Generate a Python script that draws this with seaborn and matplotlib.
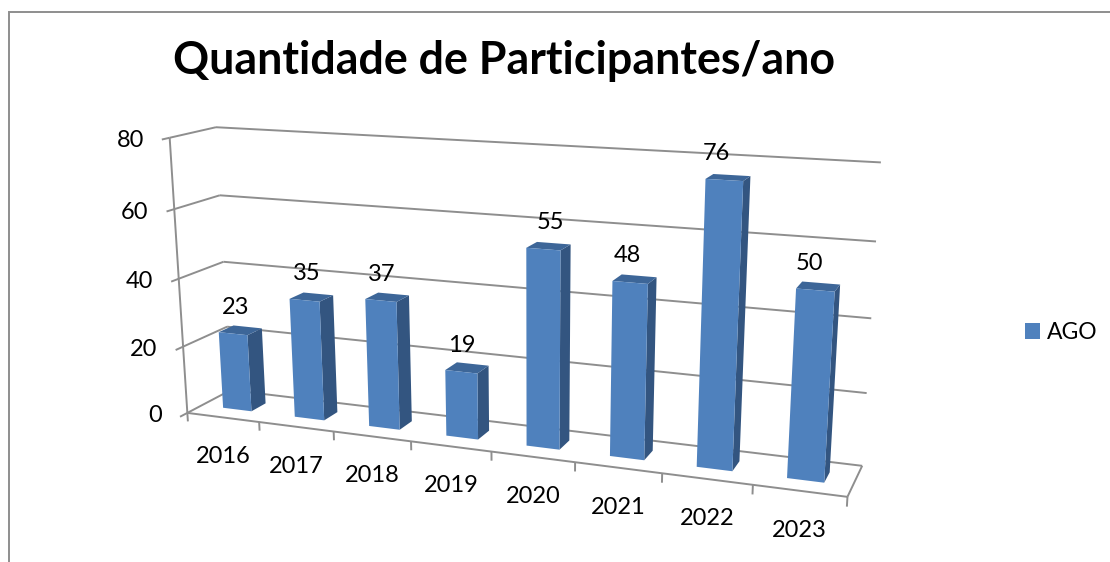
import numpy as np
import matplotlib
matplotlib.use("Agg")
import matplotlib.pyplot as plt
from matplotlib.transforms import Transform
import seaborn as sns

# ---- data ----
TITLE = "Quantidade de Participantes/ano"
YEARS = ["2016", "2017", "2018", "2019", "2020", "2021", "2022", "2023"]
VALUES = [23, 35, 37, 19, 55, 48, 76, 50]
SERIES = "AGO"
Y_TICKS = [0, 20, 40, 60, 80]

# ---- style / placement ----
W, H = 1110, 562
FRONT, SIDE, TOP = "#4F81BD", "#335580", "#3D6698"
GRID = "#8E8E8E"
D0, D1 = 0.33, 0.67
BAR_W = 0.4
LABEL_DX = [3, 2, 1, 0, 7, -3, -8, -6]
TEXT_SIZE = 17

# Camera calibration: box landmarks (slot, value, depth) -> picture position
CAL = [
    (0, 0, 0, 188, 412), (1, 0, 0, 259, 421), (2, 0, 0, 333, 431), (3, 0, 0, 411, 441),
    (4, 0, 0, 491, 452), (5, 0, 0, 575, 463), (6, 0, 0, 662, 474), (7, 0, 0, 753, 485),
    (8, 0, 0, 848, 497),
    (0, 20, 0, 183, 347), (0, 40, 0, 179, 279), (0, 60, 0, 175, 209), (0, 80, 0, 169, 138),
    (0, 0, 1, 231, 393), (0, 20, 1, 227, 326), (0, 40, 1, 223, 261), (0, 60, 1, 220, 195),
    (0, 80, 1, 216, 127),
    (8, 0, 1, 862, 464), (8, 20, 1, 867, 393), (8, 40, 1, 871, 318), (8, 60, 1, 876, 242),
    (8, 80, 1, 881, 163),
]


def fit_camera(rows):
    A = []
    for x, v, d, px, py in rows:
        X = [x / 8, v / 80, d, 1]
        A.append(X + [0, 0, 0, 0] + [-px * c for c in X])
        A.append([0, 0, 0, 0] + X + [-py * c for c in X])
    return np.linalg.svd(np.array(A, float))[2][-1].reshape(3, 4)


CAM = fit_camera(CAL)


def project(x, v, d):
    x, v, d = np.asarray(x, float), np.asarray(v, float), np.asarray(d, float)
    X = np.stack(np.broadcast_arrays(x / 8, v / 80, d, 1.0), axis=-1)
    p = X @ CAM.T
    return p[..., 0] / p[..., 2], p[..., 1] / p[..., 2]


class DepthPlane(Transform):
    """Maps seaborn's (category position, value) onto a plane of the 3D box."""
    input_dims = output_dims = 2
    is_affine = False

    def __init__(self, plane_depth):
        super().__init__()
        self.plane_depth = plane_depth

    def transform_non_affine(self, xy):
        xy = np.asarray(xy, float)
        px, py = project(xy[:, 0] + 0.5, xy[:, 1], self.plane_depth)
        return np.column_stack([px, py])


sns.set_theme(style="white")
plt.rcParams["font.family"] = ["Lato", "DejaVu Sans"]
fig = plt.figure(figsize=(W / 100, H / 100), dpi=100, facecolor="white")
ax = fig.add_axes([0, 0, 1, 1])

sns.barplot(x=YEARS, y=VALUES, width=BAR_W, color=FRONT, saturation=1, label=SERIES,
            ax=ax, zorder=5, linewidth=0)
ax.set_xlim(0, W)
ax.set_ylim(H, 0)
ax.axis("off")

front_plane = DepthPlane(D0) + ax.transData
bars = list(ax.patches)
for b in bars:
    b.set_transform(front_plane)
    b.set_clip_on(False)


def seg(p, q, **kw):
    xs, ys = project([p[0], q[0]], [p[1], q[1]], [p[2], q[2]])
    ax.plot(xs, ys, color=GRID, lw=1.4, solid_capstyle="butt", zorder=2, **kw)


# walls, floor and axis
n = len(YEARS)
for t in Y_TICKS:
    seg((0, t, 0), (0, t, 1))
    seg((0, t, 1), (n, t, 1))
    seg((0, t, 0), (0, t, -0.16))
    ex, _ = project(0, t, -0.16)
    _, ey = project(0, t, 0)
    ax.text(ex - 18, ey + 3, str(t), ha="right", va="center", fontsize=TEXT_SIZE, color="black")
seg((0, 0, 0), (0, 80, 0))
seg((0, 0, 0), (n, 0, 0))
seg((n, 0, 0), (n, 0, 1))
for i in range(n + 1):
    seg((i, 0, 0), (i, -2.6, 0))
for i, y in enumerate(YEARS):
    cx, cy = project(i + 0.5, 0, 0)
    ax.text(cx, cy + 39.5, y, ha="center", va="center", fontsize=TEXT_SIZE, color="black")

# 3D faces of each bar, derived from seaborn's rectangles
for i, (b, val) in enumerate(zip(bars, VALUES)):
    x0 = b.get_x() + 0.5
    x1 = x0 + b.get_width()
    sx, sy = project([x1, x1, x1, x1], [0, val, val, 0], [D0, D0, D1, D1])
    ax.fill(sx, sy, color=SIDE, lw=0, zorder=4)
    tx, ty = project([x0, x1, x1, x0], [val] * 4, [D0, D0, D1, D1])
    ax.fill(tx, ty, color=TOP, lw=0, zorder=4)
    lx, ly = project((x0 + x1) / 2, val, D0)
    ax.text(lx + LABEL_DX[i], ly - 26.5, str(val), ha="center", va="center",
            fontsize=TEXT_SIZE, color="black", zorder=7)

# outer frame of the picture (only top and left are visible)
ax.plot([8.5, 8.5, W], [H, 11.5, 11.5], color=GRID, lw=1.4, solid_joinstyle="miter", zorder=1)

fig.text(504 / W, 1 - 61 / H, TITLE, ha="center", va="center", fontsize=32.2,
         fontweight="bold", color="black")

ax.legend(loc="center left", bbox_to_anchor=(1018 / W, 1 - 332.5 / H), frameon=False,
          fontsize=16.5, handlelength=0.66, handleheight=0.66, handletextpad=0.3,
          borderpad=0, borderaxespad=0.3, labelcolor="black")

fig.savefig("out.png", dpi=100, facecolor="white")
